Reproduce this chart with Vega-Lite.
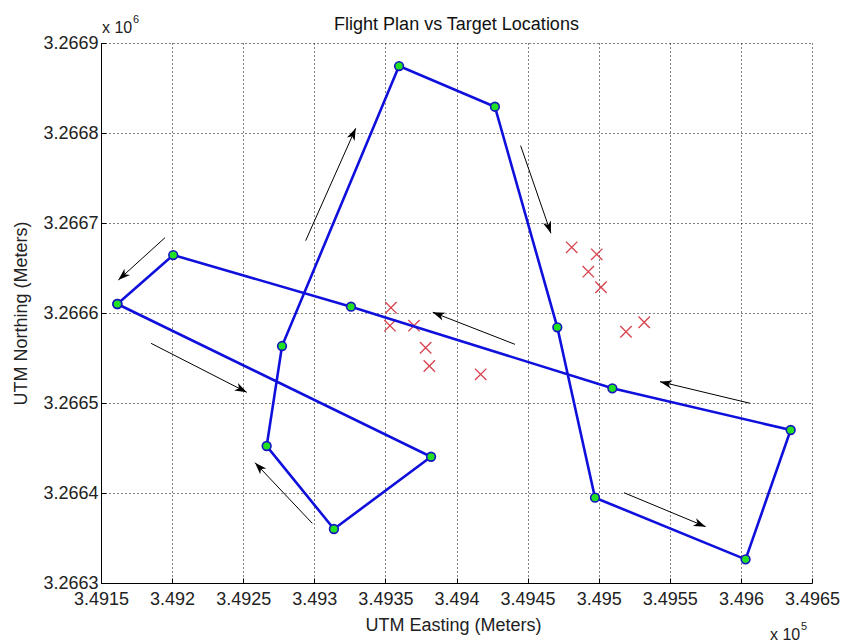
{
  "$schema": "https://vega.github.io/schema/vega-lite/v6.json",
  "width": 711,
  "height": 540,
  "autosize": {"type": "none"},
  "padding": {"left": 101, "top": 43, "right": 30, "bottom": 60},
  "background": "white",
  "config": {
    "view": {"stroke": null},
    "font": "Liberation Sans",
    "axis": {
      "domainColor": "#000000",
      "domainWidth": 1,
      "tickColor": "#000000",
      "tickSize": -5,
      "labelFont": "Liberation Sans",
      "labelFontSize": 18,
      "labelColor": "#222222",
      "titleFont": "Liberation Sans",
      "titleFontSize": 18,
      "titleFontWeight": "normal",
      "titleColor": "#222222",
      "grid": true,
      "gridColor": "#000000",
      "gridOpacity": 1,
      "gridDash": [1, 3],
      "gridWidth": 1,
      "labelFlush": false,
      "labelOverlap": false
    }
  },
  "title": {
    "text": "Flight Plan vs Target Locations",
    "font": "Liberation Sans",
    "fontSize": 18,
    "fontWeight": "normal",
    "color": "#111111",
    "anchor": "middle",
    "baseline": "alphabetic",
    "offset": -34
  },
  "datasets": {
    "path": [
      {"seq": 1, "easting": 349161.5, "northing": 3266610.0},
      {"seq": 2, "easting": 349382.1, "northing": 3266440.3},
      {"seq": 3, "easting": 349313.8, "northing": 3266360.0},
      {"seq": 4, "easting": 349266.5, "northing": 3266452.2},
      {"seq": 5, "easting": 349277.3, "northing": 3266563.3},
      {"seq": 6, "easting": 349359.6, "northing": 3266874.4},
      {"seq": 7, "easting": 349427.0, "northing": 3266829.2},
      {"seq": 8, "easting": 349470.9, "northing": 3266584.1},
      {"seq": 9, "easting": 349497.4, "northing": 3266394.8},
      {"seq": 10, "easting": 349603.3, "northing": 3266326.3},
      {"seq": 11, "easting": 349635.0, "northing": 3266470.0},
      {"seq": 12, "easting": 349509.6, "northing": 3266516.3},
      {"seq": 13, "easting": 349325.8, "northing": 3266607.0},
      {"seq": 14, "easting": 349200.8, "northing": 3266664.4},
      {"seq": 15, "easting": 349161.5, "northing": 3266610.0}
    ],
    "targets": [
      {"easting": 349353.9, "northing": 3266605.9},
      {"easting": 349353.2, "northing": 3266585.9},
      {"easting": 349370.1, "northing": 3266585.9},
      {"easting": 349378.3, "northing": 3266561.4},
      {"easting": 349380.9, "northing": 3266541.1},
      {"easting": 349417.0, "northing": 3266531.9},
      {"easting": 349481.0, "northing": 3266673.0},
      {"easting": 349498.6, "northing": 3266665.2},
      {"easting": 349492.7, "northing": 3266645.9},
      {"easting": 349501.6, "northing": 3266628.6},
      {"easting": 349532.0, "northing": 3266589.7},
      {"easting": 349519.2, "northing": 3266579.2}
    ],
    "arrows": [
      {"easting": 349185.2, "northing": 3266566.3, "easting2": 349252.5, "northing2": 3266511.9},
      {"easting": 349298.6, "northing": 3266366.3, "easting2": 349258.3, "northing2": 3266433.7},
      {"easting": 349293.9, "northing": 3266680.3, "easting2": 349329.1, "northing2": 3266805.2},
      {"easting": 349195.0, "northing": 3266683.7, "easting2": 349162.2, "northing2": 3266636.7},
      {"easting": 349445.1, "northing": 3266785.9, "easting2": 349466.4, "northing2": 3266688.6},
      {"easting": 349517.8, "northing": 3266400.3, "easting2": 349575.2, "northing2": 3266362.6},
      {"easting": 349606.4, "northing": 3266499.7, "easting2": 349543.1, "northing2": 3266523.7},
      {"easting": 349441.1, "northing": 3266565.2, "easting2": 349383.3, "northing2": 3266600.8}
    ]
  },
  "layer": [
    {
      "data": {"name": "targets"},
      "mark": {
        "type": "point",
        "shape": "M-1,-1L1,1M1,-1L-1,1",
        "filled": false,
        "stroke": "#d8404c",
        "strokeWidth": 1.3,
        "size": 130,
        "opacity": 1
      },
      "encoding": {
        "x": {
          "field": "easting",
          "type": "quantitative",
          "scale": {"domain": [349150, 349650], "nice": false, "zero": false},
          "axis": {
            "title": "UTM Easting (Meters)",
            "values": [349150, 349200, 349250, 349300, 349350, 349400, 349450, 349500, 349550, 349600, 349650],
            "labelExpr": "format(datum.value / 100000, '~g')",
            "labelPadding": 12,
            "titleX": 352,
            "titleY": 47,
            "titleBaseline": "alphabetic",
            "titleAlign": "center"
          }
        },
        "y": {
          "field": "northing",
          "type": "quantitative",
          "scale": {"domain": [3266300, 3266900], "nice": false, "zero": false},
          "axis": {
            "title": "UTM Northing (Meters)",
            "values": [3266300, 3266400, 3266500, 3266600, 3266700, 3266800, 3266900],
            "labelExpr": "format(datum.value / 1000000, '~g')",
            "labelPadding": 8,
            "titleX": -75,
            "titleY": 270,
            "titleAngle": 270,
            "titleBaseline": "alphabetic",
            "titleAlign": "center"
          }
        }
      }
    },
    {
      "data": {"name": "path"},
      "mark": {"type": "line", "color": "#1010dc", "strokeWidth": 2.6},
      "encoding": {
        "x": {"field": "easting", "type": "quantitative"},
        "y": {"field": "northing", "type": "quantitative"},
        "order": {"field": "seq", "type": "quantitative"}
      }
    },
    {
      "data": {"name": "path"},
      "mark": {
        "type": "point",
        "shape": "circle",
        "filled": true,
        "fill": "#22e022",
        "stroke": "#1515c0",
        "strokeWidth": 1.6,
        "size": 76,
        "opacity": 1
      },
      "encoding": {
        "x": {"field": "easting", "type": "quantitative"},
        "y": {"field": "northing", "type": "quantitative"}
      }
    },
    {
      "data": {"name": "arrows"},
      "mark": {"type": "rule", "color": "#000000", "strokeWidth": 1},
      "encoding": {
        "x": {"field": "easting", "type": "quantitative"},
        "y": {"field": "northing", "type": "quantitative"},
        "x2": {"field": "easting2"},
        "y2": {"field": "northing2"}
      }
    },
    {
      "data": {"name": "arrows"},
      "transform": [
        {"calculate": "atan2((datum.easting2 - datum.easting) * 1.422, (datum.northing2 - datum.northing) * 0.9) * 180 / PI", "as": "heading"}
      ],
      "mark": {
        "type": "point",
        "shape": "M0,0L-0.7,2L0,1.45L0.7,2Z",
        "filled": true,
        "fill": "#000000",
        "strokeWidth": 0,
        "size": 144,
        "opacity": 1
      },
      "encoding": {
        "x": {"field": "easting2", "type": "quantitative"},
        "y": {"field": "northing2", "type": "quantitative"},
        "angle": {"field": "heading", "type": "quantitative", "scale": null}
      }
    },
    {
      "data": {"values": [{"easting": 349150, "northing": 3266900, "label": "x 10"}]},
      "mark": {"type": "text", "align": "left", "baseline": "alphabetic", "dx": 1, "dy": -10, "fontSize": 16, "font": "Liberation Sans", "color": "#222222"},
      "encoding": {
        "x": {"field": "easting", "type": "quantitative"},
        "y": {"field": "northing", "type": "quantitative"},
        "text": {"field": "label"}
      }
    },
    {
      "data": {"values": [{"easting": 349150, "northing": 3266900, "label": "6"}]},
      "mark": {"type": "text", "align": "left", "baseline": "alphabetic", "dx": 32, "dy": -20, "fontSize": 11, "font": "Liberation Sans", "color": "#222222"},
      "encoding": {
        "x": {"field": "easting", "type": "quantitative"},
        "y": {"field": "northing", "type": "quantitative"},
        "text": {"field": "label"}
      }
    },
    {
      "data": {"values": [{"easting": 349650, "northing": 3266300, "label": "x 10"}]},
      "mark": {"type": "text", "align": "left", "baseline": "alphabetic", "dx": -42, "dy": 57, "fontSize": 16, "font": "Liberation Sans", "color": "#222222"},
      "encoding": {
        "x": {"field": "easting", "type": "quantitative"},
        "y": {"field": "northing", "type": "quantitative"},
        "text": {"field": "label"}
      }
    },
    {
      "data": {"values": [{"easting": 349650, "northing": 3266300, "label": "5"}]},
      "mark": {"type": "text", "align": "left", "baseline": "alphabetic", "dx": -11, "dy": 47, "fontSize": 11, "font": "Liberation Sans", "color": "#222222"},
      "encoding": {
        "x": {"field": "easting", "type": "quantitative"},
        "y": {"field": "northing", "type": "quantitative"},
        "text": {"field": "label"}
      }
    }
  ]
}
